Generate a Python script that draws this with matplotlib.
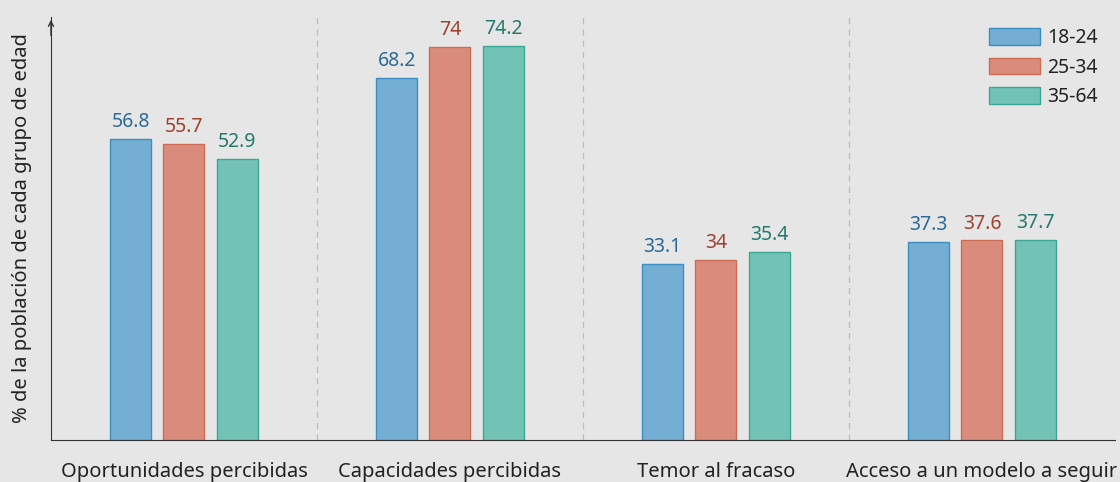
import matplotlib.pyplot as plt
import matplotlib.patches as mpatches
import numpy as np

plt.rcParams['font.family'] = ['Noto Sans', 'DejaVu Sans']

categorias = ["Oportunidades percibidas", "Capacidades percibidas",
              "Temor al fracaso", "Acceso a un modelo a seguir"]
grupos = ["18-24", "25-34", "35-64"]
v_18_24 = [56.8, 68.2, 33.1, 37.3]
v_25_34 = [55.7, 74, 34, 37.6]
v_35_64 = [52.9, 74.2, 35.4, 37.7]

series = [v_18_24, v_25_34, v_35_64]
colores = ['#74afd3', '#d98c7c', '#72c2b5']
bordes = ['#3b8fc4', '#cf6a55', '#3aa894']
texto = ['#2a6a9a', '#a0402e', '#237a6c']
bg = '#e6e6e6'

fig = plt.figure(figsize=(11.2, 4.82), dpi=100, facecolor=bg)
ax = fig.add_axes([0.0455, 0.0871, 0.95, 0.8776])
ax.set_facecolor(bg)

x = np.arange(len(categorias))
w = 0.154
step = 0.2
for i, vals in enumerate(series):
    pos = x + (i - 1) * step
    bars = ax.bar(pos, vals, width=w, color=colores[i], edgecolor=bordes[i],
                  linewidth=1, label=grupos[i])
    for b, v in zip(bars, vals):
        ax.text(b.get_x() + b.get_width() / 2, v + 1.3, f"{v:g}",
                ha='center', va='bottom', fontsize=14, color=texto[i])

for d in x[:-1] + 0.5:
    ax.axvline(d, color='#bdbdbd', linestyle=(0, (5, 4)), linewidth=0.9)

ax.set_xlim(-0.5, 3.5)
ax.set_ylim(0, 79.7)
ax.set_xticks(x)
ax.set_xticklabels(categorias, fontsize=14.5, color='#222222')
ax.tick_params(axis='x', length=0, pad=16)
ax.set_yticks([])
ax.set_ylabel("% de la población de cada grupo de edad", fontsize=14.5,
              color='#222222')
ax.yaxis.set_label_coords(-0.018, 0.5)

for s in ['top', 'right']:
    ax.spines[s].set_visible(False)
ax.spines['left'].set_color('#333333')
ax.spines['bottom'].set_color('#333333')
ax.annotate('', xy=(0, 1.0), xycoords='axes fraction', xytext=(0, 0.95),
            arrowprops=dict(arrowstyle='->', color='#333333', lw=1,
                            mutation_scale=9))

handles = [mpatches.Patch(facecolor=colores[i], edgecolor=bordes[i], label=grupos[i])
           for i in range(3)]
leg = ax.legend(handles=handles, loc='upper right', bbox_to_anchor=(1.0, 1.015),
                frameon=False, fontsize=14, handlelength=2.6, handleheight=0.95,
                labelspacing=0.48, handletextpad=0.35)
for t in leg.get_texts():
    t.set_color('#222222')

fig.savefig('out.png', dpi=100, facecolor=bg)
